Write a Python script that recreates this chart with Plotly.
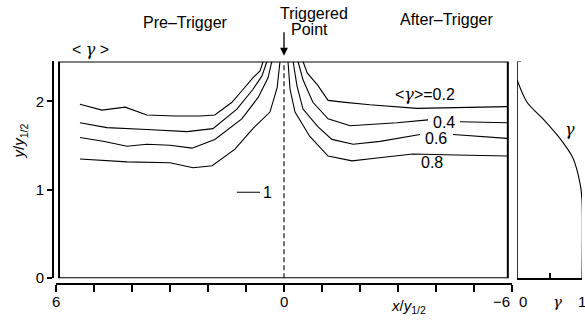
import plotly.graph_objects as go

# ---------------- data (x/y_1/2 , y/y_1/2) ----------------
# contour <gamma> = 0.2
c02_left_x = [5.37, 4.79, 4.18, 3.61, 2.87, 2.21, 1.82, 1.37, 1.08, 0.82, 0.63, 0.55]
c02_left_y = [1.967, 1.90, 1.934, 1.845, 1.834, 1.834, 1.845, 1.989, 2.133, 2.265, 2.343, 2.45]
c02_right_x = [-0.50, -0.61, -0.89, -1.16, -1.55, -2.26, -3.50, -4.37, -5.87]
c02_right_y = [2.45, 2.32, 2.18, 2.01, 1.99, 1.96, 1.92, 1.93, 1.94]
# contour 0.4
c04_left_x = [5.37, 4.66, 3.61, 2.55, 1.87, 1.24, 0.82, 0.58, 0.45]
c04_left_y = [1.757, 1.702, 1.680, 1.657, 1.691, 1.912, 2.133, 2.287, 2.45]
c04_right_x = [-0.37, -0.50, -0.76, -1.16, -1.66, -1.74, -2.97, -3.79, None, -4.63, -5.87]
c04_right_y = [2.45, 2.243, 1.989, 1.801, 1.735, 1.724, 1.757, 1.790, None, 1.768, 1.757]
# contour 0.6
c06_left_x = [5.37, 4.76, 4.13, 3.61, 3.00, 2.42, 1.82, 1.11, 0.68, 0.42, 0.32]
c06_left_y = [1.591, 1.547, 1.492, 1.514, 1.503, 1.470, 1.569, 1.801, 2.044, 2.265, 2.45]
c06_right_x = [-0.24, -0.34, -0.50, -0.89, -1.26, -1.82, -2.53, -3.58, None, -4.45, -5.16, -5.87]
c06_right_y = [2.45, 2.177, 1.912, 1.713, 1.569, 1.514, 1.547, 1.624, None, 1.624, 1.602, 1.580]
# contour 0.8
c08_left_x = [5.37, 4.13, 3.00, 2.39, 1.89, 1.29, 0.82, 0.37, 0.18, 0.105]
c08_left_y = [1.348, 1.315, 1.304, 1.249, 1.271, 1.459, 1.691, 1.878, 2.155, 2.45]
c08_right_x = [-0.105, -0.16, -0.29, -0.68, -1.16, -1.79, -2.45, -3.39, -4.55, -5.87]
c08_right_y = [2.45, 2.133, 1.878, 1.602, 1.381, 1.326, 1.359, 1.403, 1.392, 1.381]
# contour 1 (short mark)
c10_x = [1.24, 0.63]
c10_y = [0.972, 0.972]

# intermittency profile gamma(y) (right panel)
gamma_vals = [0.0, 0.154, 0.40, 0.66, 0.86, 0.97, 1.0, 1.0]
gamma_y = [2.243, 1.989, 1.801, 1.580, 1.359, 1.072, 0.884, 0.0]

G = "<span style=\"font-family:'DejaVu Serif'\"><i>\u03b3</i></span>"

x_ticks = [6, 5, 4, 3, 2, 1, 0, -1, -2, -3, -4, -5, -6]
x_label_vals = [6, 0, -6]
x_label_text = ["6", "0", "\u22126"]
y_ticks = [0, 1, 2]
y_ticktext = ["0", "1", "2"]
g_label_vals = [0.09, 0.62, 1.0]
g_label_text = ["0", G, "1"]

Y_TOP = 2.45
FONT = "Liberation Sans, Arial, sans-serif"
W, H = 585, 332

def px(x):
    return x / W

def py(y):
    return (H - y) / H

fig = go.Figure()

line_style = dict(color="black", width=1.1)
for xs, ys in [(c02_left_x, c02_left_y), (c02_right_x, c02_right_y),
               (c04_left_x, c04_left_y), (c04_right_x, c04_right_y),
               (c06_left_x, c06_left_y), (c06_right_x, c06_right_y),
               (c08_left_x, c08_left_y), (c08_right_x, c08_right_y),
               (c10_x, c10_y)]:
    fig.add_trace(go.Scatter(x=xs, y=ys, mode="lines", line=line_style,
                             showlegend=False, hoverinfo="skip", connectgaps=False))

# dashed trigger line
fig.add_trace(go.Scatter(x=[0, 0], y=[0, Y_TOP], mode="lines",
                         line=dict(color="black", width=1.1, dash="5px,3px"),
                         showlegend=False, hoverinfo="skip"))

# gamma profile
fig.add_trace(go.Scatter(x=gamma_vals, y=gamma_y, mode="lines", xaxis="x2", yaxis="y",
                         line=dict(color="black", width=1.1, shape="spline", smoothing=0.8),
                         showlegend=False, hoverinfo="skip"))

# main box
fig.add_shape(type="rect", xref="x", yref="y", x0=5.92, x1=-5.89, y0=0, y1=Y_TOP,
              line=dict(color="black", width=2))
# right panel left border and small top serif
fig.add_shape(type="line", xref="x2", yref="y", x0=0, x1=0, y0=0, y1=Y_TOP,
              line=dict(color="black", width=1.6))
fig.add_shape(type="line", xref="x2", yref="y", x0=0, x1=0.06, y0=Y_TOP, y1=Y_TOP,
              line=dict(color="black", width=1.2))

ann = []
def txt(x, y, s, size=15, angle=0, xref="paper", xanchor="center"):
    ann.append(dict(x=px(x) if xref == "paper" else x, y=py(y), xref=xref, yref="paper",
                    text=s, showarrow=False, textangle=angle,
                    font=dict(family=FONT, size=size, color="black"),
                    xanchor=xanchor, yanchor="middle"))

txt(185, 23, "Pre\u2013Trigger", 16)
txt(314, 14, "Triggered", 16)
txt(309, 30, "Point", 16)
txt(446, 20, "After\u2013Trigger", 16)
txt(90, 51, "&lt; " + G + " &gt;", 16)
txt(425, 97, "&lt;" + G + "&gt;=0.2", 16)
txt(444, 126, "0.4", 16)
txt(436, 142, "0.6", 16)
txt(432, 166, "0.8", 16)
txt(267, 197, "1", 16)
txt(570, 133, G, 16)
txt(408, 314, "<i>x</i>/<i>y</i><sub>1/2</sub>", 15)
txt(20, 145, "<i>y</i>/<i>y</i><sub>1/2</sub>", 15, angle=-90)

# x tick labels (the -6 label sits left of its tick, as in the original)
for v, s in zip(x_label_vals, x_label_text):
    if v == -6:
        txt(v, 309, s, 15, xref="x", xanchor="right")
    else:
        txt(v, 309, s, 15, xref="x")
# gamma axis labels
for v, s in zip(g_label_vals, g_label_text):
    ann.append(dict(x=v, y=py(309), xref="x2", yref="paper", text=s, showarrow=False,
                    font=dict(family=FONT, size=15, color="black"),
                    xanchor="center", yanchor="middle"))

# arrow to triggered point
ann.append(dict(x=0, y=py(57), xref="x", yref="paper", ax=0, ay=-25,
                axref="pixel", ayref="pixel", text="", showarrow=True,
                arrowhead=2, arrowsize=1.2, arrowwidth=1.3, arrowcolor="black"))

fig.update_layout(
    width=W, height=H, autosize=False,
    margin=dict(l=0, r=0, t=0, b=0),
    paper_bgcolor="white", plot_bgcolor="white",
    font=dict(family=FONT, size=15, color="black"),
    annotations=ann,
    xaxis=dict(domain=[px(56), px(512)], range=[6, -6], anchor="free", position=py(291),
               showline=True, linecolor="black", linewidth=1.6,
               ticks="outside", ticklen=7, tickwidth=1.5, tickcolor="black",
               tickvals=x_ticks, showticklabels=False,
               showgrid=False, zeroline=False, fixedrange=True),
    yaxis=dict(domain=[py(285), py(63)], range=[0, Y_TOP], anchor="free", position=px(53),
               showline=True, linecolor="black", linewidth=1.6,
               ticks="outside", ticklen=5, tickwidth=1.5, tickcolor="black",
               tickvals=y_ticks, ticktext=y_ticktext, tickfont=dict(size=15),
               showgrid=False, zeroline=False, fixedrange=True),
    xaxis2=dict(domain=[px(517), px(582)], range=[0, 1], anchor="y",
                showline=True, linecolor="black", linewidth=1.6,
                ticks="inside", ticklen=5, tickwidth=1.5, tickcolor="black",
                tickvals=[0.5], showticklabels=False,
                showgrid=False, zeroline=False, fixedrange=True),
)

fig.write_html("out.html")
